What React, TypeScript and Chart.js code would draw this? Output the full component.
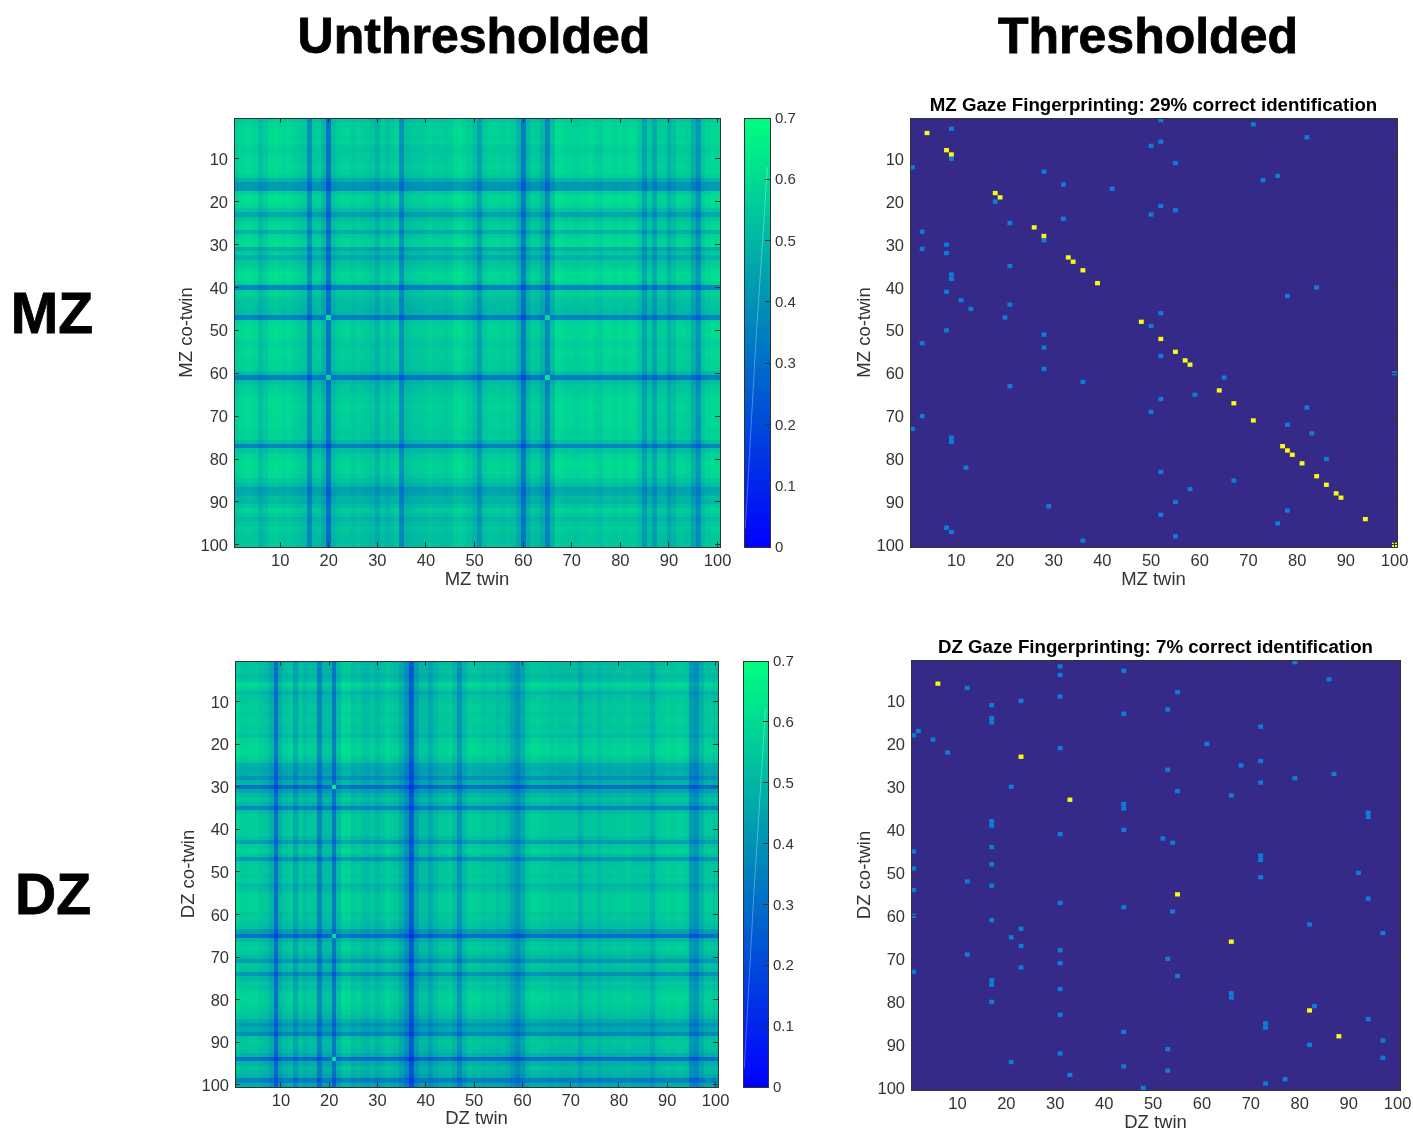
import React, { useEffect, useRef } from "react";
import { Chart, registerables } from "chart.js";

Chart.register(...registerables);

// ---------- tick labels ----------
const twinTicks = [10, 20, 30, 40, 50, 60, 70, 80, 90, 100];
const colorbarTicks = [0, 0.1, 0.2, 0.3, 0.4, 0.5, 0.6, 0.7];
const colorbarLevels = [
  0, 0.01, 0.02, 0.03, 0.04, 0.05, 0.06, 0.07, 0.08, 0.09, 0.1, 0.11, 0.12, 0.13, 0.14, 0.15, 0.16, 0.17, 0.18, 0.19,
  0.2, 0.21, 0.22, 0.23, 0.24, 0.25, 0.26, 0.27, 0.28, 0.29, 0.3, 0.31, 0.32, 0.33, 0.34, 0.35, 0.36, 0.37, 0.38, 0.39,
  0.4, 0.41, 0.42, 0.43, 0.44, 0.45, 0.46, 0.47, 0.48, 0.49, 0.5, 0.51, 0.52, 0.53, 0.54, 0.55, 0.56, 0.57, 0.58, 0.59,
  0.6, 0.61, 0.62, 0.63, 0.64, 0.65, 0.66, 0.67, 0.68, 0.69,
];
// faint light streak visible inside the reference colour bars
const colorbarStreak = [
  { x: 0.05, y: 0.03 },
  { x: 0.45, y: 0.33 },
  { x: 0.9, y: 0.62 },
];

// ---------- MZ unthresholded: mean correlation of each row / column ----------
const mzRowMeans = [
  0.54, 0.55, 0.57, 0.57, 0.56, 0.57, 0.55, 0.54, 0.55, 0.56,
  0.56, 0.57, 0.56, 0.54, 0.47, 0.41, 0.4, 0.55, 0.58, 0.58,
  0.56, 0.52, 0.44, 0.52, 0.55, 0.56, 0.47, 0.55, 0.57, 0.58,
  0.46, 0.53, 0.47, 0.53, 0.54, 0.56, 0.58, 0.58, 0.55, 0.36,
  0.54, 0.54, 0.52, 0.51, 0.5, 0.5, 0.35, 0.55, 0.57, 0.57,
  0.57, 0.56, 0.54, 0.55, 0.56, 0.56, 0.55, 0.55, 0.55, 0.5,
  0.34, 0.5, 0.53, 0.54, 0.55, 0.56, 0.56, 0.57, 0.56, 0.56,
  0.56, 0.56, 0.55, 0.55, 0.55, 0.5, 0.35, 0.52, 0.55, 0.56,
  0.57, 0.57, 0.57, 0.56, 0.53, 0.5, 0.44, 0.45, 0.49, 0.48,
  0.52, 0.55, 0.53, 0.5, 0.52, 0.54, 0.53, 0.52, 0.52, 0.53,
];
const mzColMeans = [
  0.54, 0.55, 0.56, 0.56, 0.55, 0.5, 0.53, 0.56, 0.57, 0.56,
  0.55, 0.56, 0.54, 0.53, 0.52, 0.38, 0.52, 0.53, 0.48, 0.3,
  0.5, 0.53, 0.54, 0.54, 0.52, 0.54, 0.53, 0.52, 0.51, 0.47,
  0.53, 0.5, 0.52, 0.54, 0.38, 0.5, 0.51, 0.52, 0.52, 0.53,
  0.54, 0.53, 0.53, 0.52, 0.53, 0.56, 0.57, 0.55, 0.53, 0.5,
  0.42, 0.52, 0.54, 0.54, 0.54, 0.53, 0.54, 0.53, 0.47, 0.33,
  0.48, 0.53, 0.52, 0.48, 0.36, 0.5, 0.57, 0.56, 0.55, 0.55,
  0.54, 0.55, 0.55, 0.56, 0.54, 0.53, 0.56, 0.56, 0.55, 0.56,
  0.55, 0.56, 0.56, 0.52, 0.43, 0.52, 0.44, 0.53, 0.53, 0.46,
  0.5, 0.54, 0.54, 0.53, 0.46, 0.39, 0.52, 0.55, 0.56, 0.56,
];
const mzBrightCells = [
  [20, 47, 0.64],
  [65, 47, 0.6],
  [20, 61, 0.6],
  [65, 61, 0.63],
];

// ---------- DZ unthresholded ----------
const dzRowMeans = [
  0.52, 0.52, 0.53, 0.5, 0.52, 0.58, 0.55, 0.49, 0.53, 0.54,
  0.55, 0.55, 0.54, 0.55, 0.55, 0.54, 0.55, 0.52, 0.56, 0.57,
  0.58, 0.58, 0.56, 0.54, 0.47, 0.46, 0.47, 0.4, 0.48, 0.3,
  0.45, 0.5, 0.53, 0.5, 0.37, 0.52, 0.55, 0.55, 0.55, 0.55,
  0.55, 0.52, 0.44, 0.54, 0.56, 0.53, 0.42, 0.53, 0.55, 0.55,
  0.54, 0.55, 0.5, 0.52, 0.55, 0.56, 0.56, 0.56, 0.56, 0.54,
  0.55, 0.53, 0.52, 0.44, 0.3, 0.5, 0.54, 0.55, 0.53, 0.5,
  0.42, 0.53, 0.52, 0.4, 0.5, 0.54, 0.53, 0.55, 0.57, 0.57,
  0.56, 0.55, 0.54, 0.52, 0.47, 0.42, 0.46, 0.38, 0.52, 0.54,
  0.53, 0.52, 0.48, 0.3, 0.48, 0.52, 0.5, 0.47, 0.36, 0.46,
];
const dzColMeans = [
  0.56, 0.54, 0.54, 0.55, 0.55, 0.53, 0.52, 0.47, 0.3, 0.48,
  0.52, 0.54, 0.45, 0.53, 0.5, 0.52, 0.52, 0.36, 0.5, 0.5,
  0.33, 0.5, 0.56, 0.56, 0.52, 0.54, 0.51, 0.5, 0.53, 0.49,
  0.52, 0.55, 0.53, 0.52, 0.47, 0.4, 0.25, 0.44, 0.5, 0.5,
  0.45, 0.5, 0.53, 0.53, 0.54, 0.5, 0.4, 0.5, 0.55, 0.54,
  0.54, 0.52, 0.53, 0.53, 0.51, 0.52, 0.5, 0.45, 0.4, 0.45,
  0.52, 0.55, 0.55, 0.54, 0.54, 0.52, 0.53, 0.52, 0.52, 0.52,
  0.53, 0.47, 0.52, 0.52, 0.53, 0.5, 0.53, 0.52, 0.53, 0.53,
  0.53, 0.54, 0.52, 0.52, 0.52, 0.52, 0.47, 0.53, 0.54, 0.55,
  0.54, 0.55, 0.55, 0.54, 0.42, 0.4, 0.48, 0.53, 0.53, 0.52,
];
const dzBrightCells = [
  [21, 30, 0.66],
  [21, 65, 0.62],
  [21, 94, 0.62],
];

// ---------- thresholded: [column, row] ----------
const mzCorrect = [
  [4, 4], [8, 8], [9, 9], [18, 18], [19, 19], [26, 26], [28, 28], [33, 33], [34, 34], [36, 36],
  [39, 39], [48, 48], [52, 52], [55, 55], [57, 57], [58, 58], [64, 64], [67, 67], [71, 71], [77, 77],
  [78, 78], [79, 79], [81, 81], [84, 84], [86, 86], [88, 88], [89, 89], [94, 94], [100, 100],
];
const mzMisses = [
  [9, 3], [1, 12], [9, 10], [28, 13], [32, 16], [42, 17], [18, 20], [21, 25], [32, 24], [3, 27],
  [28, 29], [8, 30], [3, 31], [8, 32], [21, 35], [9, 37], [9, 38], [8, 41], [11, 43], [13, 45],
  [21, 44], [20, 47], [8, 50], [28, 51], [52, 1], [71, 2], [82, 5], [52, 6], [50, 7], [55, 11],
  [76, 14], [73, 15], [52, 21], [55, 22], [50, 23], [84, 40], [78, 42], [52, 46], [50, 49], [3, 53],
  [28, 54], [28, 59], [21, 63], [36, 62], [3, 70], [1, 73], [9, 75], [9, 76], [12, 82], [29, 91],
  [8, 96], [9, 97], [36, 99], [52, 56], [65, 61], [59, 65], [52, 66], [50, 69], [82, 68], [78, 72],
  [83, 74], [86, 80], [52, 83], [67, 85], [58, 87], [55, 90], [52, 93], [78, 92], [76, 95], [55, 98],
  [100, 60],
];
const dzCorrect = [[6, 6], [23, 23], [33, 33], [55, 55], [66, 66], [82, 82], [88, 88]];
const dzMisses = [
  [31, 2], [44, 3], [31, 4], [12, 7], [31, 9], [23, 10], [17, 11], [44, 13], [17, 14], [17, 15],
  [2, 17], [1, 18], [5, 19], [31, 21], [8, 22], [21, 30], [44, 34], [44, 35], [17, 38], [17, 39],
  [44, 40], [31, 41], [17, 44], [1, 45], [17, 48], [1, 49], [79, 1], [86, 5], [55, 8], [53, 12],
  [72, 16], [61, 20], [72, 24], [68, 25], [53, 26], [87, 27], [79, 28], [72, 29], [55, 31], [66, 32],
  [94, 36], [94, 37], [52, 42], [54, 43], [72, 46], [72, 47], [92, 50], [12, 52], [17, 53], [1, 54],
  [1, 60], [31, 57], [44, 58], [17, 61], [23, 63], [21, 65], [23, 67], [31, 68], [12, 69], [31, 71],
  [23, 72], [1, 73], [17, 75], [17, 76], [31, 77], [17, 80], [31, 83], [44, 87], [31, 92], [21, 94],
  [44, 95], [33, 97], [72, 51], [94, 56], [54, 59], [82, 62], [97, 64], [53, 70], [55, 74], [66, 78],
  [66, 79], [83, 81], [94, 84], [73, 85], [73, 86], [97, 89], [82, 90], [53, 91], [97, 93], [53, 96],
  [77, 98], [73, 99], [48, 100],
];

// ---------- colour maps ----------
const winter = (v: number) => {
  const t = Math.max(0, Math.min(1, v / 0.7));
  return `rgb(0,${Math.round(t * 255)},${Math.round(255 - t * 127)})`;
};
const PARULA_LOW = "#352a87";
const PARULA_BLUE = "#0e7dd8";
const PARULA_HIGH = "#f9fb15";

const FONT = "'Liberation Sans', Arial, sans-serif";
const TEXT = "#333333";

type Cell = { x: number; y: number; v: number };

const fieldCells = (rows: number[], cols: number[], bright: number[][]): Cell[] => {
  const out: Cell[] = [];
  rows.forEach((r, i) =>
    cols.forEach((c, j) => {
      const hit = bright.find((b) => b[0] === j + 1 && b[1] === i + 1);
      out.push({ x: j + 1, y: i + 1, v: hit ? hit[2] : (r * c) / 0.53 });
    })
  );
  return out;
};

const hitCells = (pairs: number[][], v: number): Cell[] => pairs.map(([x, y]) => ({ x, y, v }));

// Paints each point as one image cell through the chart's own scales.
const cellPlugin = {
  id: "cells",
  beforeDatasetsDraw(chart: any) {
    const { ctx, chartArea: a, scales } = chart;
    ctx.save();
    ctx.beginPath();
    ctx.rect(a.left, a.top, a.right - a.left, a.bottom - a.top);
    ctx.clip();
    const bg = chart.options.plugins.cells?.background;
    if (bg) {
      ctx.fillStyle = bg;
      ctx.fillRect(a.left, a.top, a.right - a.left, a.bottom - a.top);
    }
    chart.data.datasets.forEach((ds: any) => {
      if (!ds.cellColor) return;
      const hx = ds.cellWidth / 2;
      const hy = ds.cellHeight / 2;
      const snap = ds.snapCells ? Math.round : (n: number) => n;
      ds.data.forEach((p: Cell) => {
        const x0 = snap(scales.x.getPixelForValue(p.x - hx));
        const x1 = snap(scales.x.getPixelForValue(p.x + hx));
        const y0 = snap(scales.y.getPixelForValue(p.y - hy));
        const y1 = snap(scales.y.getPixelForValue(p.y + hy));
        ctx.fillStyle = ds.cellColor(p.v);
        ctx.fillRect(Math.min(x0, x1), Math.min(y0, y1), Math.abs(x1 - x0), Math.abs(y1 - y0));
      });
    });
    ctx.restore();
  },
};

const fixSize = (w: number | null, h: number | null) => (s: any) => {
  if (w !== null) s.width = w;
  if (h !== null) s.height = h;
  s.paddingLeft = s.paddingRight = s.paddingTop = s.paddingBottom = 0;
};
const setTicks = (values: number[]) => (s: any) => {
  s.ticks = values.map((value) => ({ value }));
};
const ink = { color: TEXT, width: 1, z: 1 };
const tickGrid = { drawOnChartArea: false, drawTicks: true, tickLength: -5, color: TEXT, z: 1 };
// an empty first line nudges the label down by half the line height
const nudgedLabel = (v: any) => ["", String(v)];

type Rect = { l: number; t: number; r: number; b: number };

const L = 70;
const R = 22;
const B = 50;

function Heatmap(props: {
  rect: Rect;
  title?: string;
  xLabel: string;
  yLabel: string;
  yTitlePad: number;
  xTitlePad: number;
  cells: any[];
  background?: string;
}) {
  const ref = useRef<HTMLCanvasElement>(null);
  const { rect, title } = props;
  const T = title ? 24 : 4;
  const width = rect.r - rect.l + L + R;
  const height = rect.b - rect.t + T + B;
  useEffect(() => {
    const hidden = (axis: "x" | "y", position: string, extra: any) => ({
      axis,
      type: "linear",
      position,
      min: 0.5,
      max: 100.5,
      ticks: { display: false, autoSkip: false },
      grid: tickGrid,
      border: ink,
      afterBuildTicks: setTicks(twinTicks),
      ...extra,
    });
    const chart = new Chart(ref.current as HTMLCanvasElement, {
      type: "scatter",
      data: { datasets: props.cells },
      options: {
        animation: false,
        responsive: false,
        events: [],
        elements: { point: { radius: 0 } },
        layout: { padding: { left: 0, right: R, top: title ? 0 : T, bottom: 0 } },
        plugins: {
          legend: { display: false },
          tooltip: { enabled: false },
          cells: { background: props.background },
          title: title
            ? {
                display: true,
                text: title,
                color: "#000000",
                fullSize: false,
                font: { family: FONT, size: 18.7, weight: "bold", lineHeight: "24px" },
                padding: { top: 0, bottom: 0 },
              }
            : { display: false },
        },
        scales: {
          x: {
            type: "linear",
            position: "bottom",
            min: 0.5,
            max: 100.5,
            afterBuildTicks: setTicks(twinTicks),
            afterFit: fixSize(null, B),
            grid: tickGrid,
            border: ink,
            ticks: {
              autoSkip: false,
              maxRotation: 0,
              padding: 10,
              color: TEXT,
              font: { family: FONT, size: 16.5 },
              callback: (v: any) => String(v),
            },
            title: {
              display: true,
              text: props.xLabel,
              color: TEXT,
              font: { family: FONT, size: 18.5 },
              padding: props.xTitlePad,
            },
          },
          y: {
            type: "linear",
            position: "left",
            reverse: true,
            min: 0.5,
            max: 100.5,
            afterBuildTicks: setTicks(twinTicks),
            afterFit: fixSize(L, null),
            grid: tickGrid,
            border: ink,
            ticks: {
              autoSkip: false,
              padding: 11,
              color: TEXT,
              font: { family: FONT, size: 16.5, lineHeight: "3px" },
              callback: nudgedLabel,
            },
            title: {
              display: true,
              text: props.yLabel,
              color: TEXT,
              font: { family: FONT, size: 18.5 },
              padding: props.yTitlePad,
            },
          },
          x2: hidden("x", "top", { afterFit: fixSize(null, 0) }),
          y2: hidden("y", "right", { reverse: true, afterFit: fixSize(0, null) }),
        },
      } as any,
      plugins: [cellPlugin],
    } as any);
    return () => chart.destroy();
  }, []);
  return (
    <canvas
      ref={ref}
      width={width}
      height={height}
      style={{ position: "absolute", left: rect.l - L, top: rect.t - T, width, height }}
    />
  );
}

function Colorbar({ rect }: { rect: Rect }) {
  const ref = useRef<HTMLCanvasElement>(null);
  const RR = 40;
  const width = rect.r - rect.l + 4 + RR;
  const height = rect.b - rect.t + 16;
  useEffect(() => {
    const chart = new Chart(ref.current as HTMLCanvasElement, {
      type: "scatter",
      data: {
        datasets: [
          {
            data: colorbarLevels.map((v) => ({ x: 0.5, y: v + 0.005, v: v + 0.005 })),
            cellWidth: 1,
            cellHeight: 0.01,
            snapCells: true,
            cellColor: winter,
          },
          {
            data: colorbarStreak,
            showLine: true,
            borderColor: "rgba(255,255,255,0.3)",
            borderWidth: 1,
            pointRadius: 0,
          },
        ],
      },
      options: {
        animation: false,
        responsive: false,
        events: [],
        elements: { point: { radius: 0 } },
        layout: { padding: { left: 4, right: 0, top: 8, bottom: 8 } },
        plugins: { legend: { display: false }, tooltip: { enabled: false }, title: { display: false } },
        scales: {
          x: {
            type: "linear",
            position: "bottom",
            min: 0,
            max: 1,
            afterBuildTicks: setTicks([]),
            afterFit: fixSize(null, 0),
            ticks: { display: false },
            grid: { display: false },
            border: ink,
          },
          x2: {
            axis: "x",
            type: "linear",
            position: "top",
            min: 0,
            max: 1,
            afterBuildTicks: setTicks([]),
            afterFit: fixSize(null, 0),
            ticks: { display: false },
            grid: { display: false },
            border: ink,
          },
          y2: {
            axis: "y",
            type: "linear",
            position: "left",
            min: 0,
            max: 0.7,
            afterBuildTicks: setTicks([]),
            afterFit: fixSize(0, null),
            ticks: { display: false },
            grid: { display: false },
            border: ink,
          },
          y: {
            type: "linear",
            position: "right",
            min: 0,
            max: 0.7,
            afterBuildTicks: setTicks(colorbarTicks),
            afterFit: fixSize(RR, null),
            grid: tickGrid,
            border: ink,
            ticks: {
              autoSkip: false,
              padding: 10,
              color: TEXT,
              font: { family: FONT, size: 15, lineHeight: "2px" },
              callback: nudgedLabel,
            },
          },
        },
      } as any,
      plugins: [cellPlugin],
    } as any);
    return () => chart.destroy();
  }, []);
  return (
    <canvas
      ref={ref}
      width={width}
      height={height}
      style={{ position: "absolute", left: rect.l - 4, top: rect.t - 8, width, height }}
    />
  );
}

const heading = (text: string, cx: number, cy: number, size: number) => (
  <div
    key={text}
    style={{
      position: "absolute",
      left: cx,
      top: cy,
      transform: "translate(-50%, -50%)",
      font: `bold ${size}px ${FONT}`,
      lineHeight: 1,
      color: "#000",
      whiteSpace: "nowrap",
      WebkitTextStroke: "0.8px #000",
    }}
  >
    {text}
  </div>
);

const dense = (rows: number[], cols: number[], bright: number[][]) => [
  { data: fieldCells(rows, cols, bright), cellWidth: 1, cellHeight: 1, snapCells: true, cellColor: winter },
];
const sparse = (misses: number[][], correct: number[][]) => [
  { data: hitCells(misses, 0.25), cellWidth: 1, cellHeight: 1, cellColor: () => PARULA_BLUE },
  { data: hitCells(correct, 1), cellWidth: 1, cellHeight: 1, cellColor: () => PARULA_HIGH },
];

export default function App() {
  return (
    <div style={{ position: "absolute", left: 0, top: 0, width: 1413, height: 1130, overflow: "hidden", background: "#fff" }}>
      {heading("Unthresholded", 474, 36, 50)}
      {heading("Thresholded", 1148, 36, 50)}
      {heading("MZ", 52, 313, 57)}
      {heading("DZ", 53, 894, 57)}
      <Heatmap
        rect={{ l: 234, t: 118, r: 720, b: 547 }}
        xLabel="MZ twin"
        yLabel="MZ co-twin"
        xTitlePad={6}
        yTitlePad={12}
        cells={dense(mzRowMeans, mzColMeans, mzBrightCells)}
      />
      <Colorbar rect={{ l: 744, t: 118, r: 770, b: 547 }} />
      <Heatmap
        rect={{ l: 910, t: 118, r: 1397, b: 547 }}
        title="MZ Gaze Fingerprinting: 29% correct identification"
        xLabel="MZ twin"
        yLabel="MZ co-twin"
        xTitlePad={6}
        yTitlePad={14}
        cells={sparse(mzMisses, mzCorrect)}
        background={PARULA_LOW}
      />
      <Heatmap
        rect={{ l: 235, t: 661, r: 718, b: 1087 }}
        xLabel="DZ twin"
        yLabel="DZ co-twin"
        xTitlePad={7}
        yTitlePad={13}
        cells={dense(dzRowMeans, dzColMeans, dzBrightCells)}
      />
      <Colorbar rect={{ l: 743, t: 661, r: 768, b: 1087 }} />
      <Heatmap
        rect={{ l: 911, t: 660, r: 1400, b: 1090 }}
        title="DZ Gaze Fingerprinting: 7% correct identification"
        xLabel="DZ twin"
        yLabel="DZ co-twin"
        xTitlePad={6}
        yTitlePad={13}
        cells={sparse(dzMisses, dzCorrect)}
        background={PARULA_LOW}
      />
    </div>
  );
}
